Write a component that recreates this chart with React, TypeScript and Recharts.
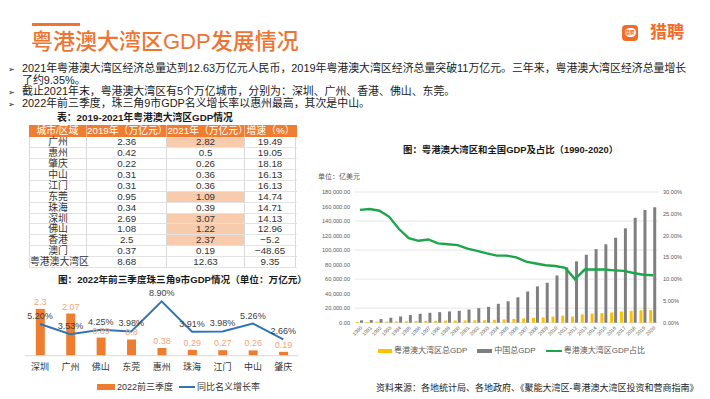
import React from 'react';
import { ComposedChart, Bar, Line, XAxis, YAxis, CartesianGrid, LabelList } from 'recharts';

// table: 2019-2021 GDP
const tableCities = ['广州', '惠州', '肇庆', '中山', '江门', '东莞', '珠海', '深圳', '佛山', '香港', '澳门', '粤港澳大湾区'];
const gdp2019 = ['2.36', '0.42', '0.22', '0.31', '0.31', '0.95', '0.34', '2.69', '1.08', '2.5', '0.37', '8.68'];
const gdp2021 = ['2.82', '0.5', '0.26', '0.36', '0.36', '1.09', '0.39', '3.07', '1.22', '2.37', '0.19', '12.63'];
const growthPct = ['19.49', '19.05', '18.18', '16.13', '16.13', '14.74', '14.71', '14.13', '12.96', '−5.2', '−48.65', '9.35'];
const trillionCities = ['广州', '东莞', '深圳', '佛山', '香港'];
const tableHeader = ['城市/区域', '2019年（万亿元）', '2021年（万亿元）', '增速（%）'];

// 2022 Q1-Q3, 9 cities of the PRD
const cities2022 = ['深圳', '广州', '佛山', '东莞', '惠州', '珠海', '江门', '中山', '肇庆'];
const gdp2022 = [2.3, 2.07, 0.89, 0.8, 0.38, 0.29, 0.27, 0.26, 0.19];
const growth2022 = [5.2, 3.53, 4.25, 3.98, 8.9, 3.91, 3.98, 5.26, 2.66];

// 1990-2020, unit: 亿美元
const years = ['1990', '1991', '1992', '1993', '1994', '1995', '1996', '1997', '1998', '1999', '2000', '2001', '2002', '2003', '2004', '2005', '2006', '2007', '2008', '2009', '2010', '2011', '2012', '2013', '2014', '2015', '2016', '2017', '2018', '2019', '2020'];
const gbaGdp = [830, 940, 1290, 1650, 1850, 2040, 2310, 2600, 2640, 2790, 2920, 3090, 3300, 3470, 4000, 4540, 5250, 6020, 6800, 7260, 8450, 9630, 8450, 11400, 12360, 13180, 14040, 15470, 16470, 17090, 17330];
const chinaGdp = [3200, 3600, 5000, 6800, 8600, 10500, 12300, 13600, 14500, 15500, 16400, 18200, 20000, 21800, 26000, 29500, 35000, 43000, 50000, 55000, 65000, 76400, 84500, 93600, 101300, 108000, 117000, 130000, 144500, 155400, 159000];
const gbaShare = [0.259, 0.261, 0.257, 0.243, 0.215, 0.194, 0.188, 0.191, 0.182, 0.18, 0.178, 0.17, 0.165, 0.159, 0.154, 0.154, 0.15, 0.14, 0.136, 0.132, 0.13, 0.126, 0.1, 0.122, 0.122, 0.122, 0.12, 0.119, 0.114, 0.11, 0.109];
const leftTicks = [0, 20000, 40000, 60000, 80000, 100000, 120000, 140000, 160000, 180000];
const rightTicks = [0, 0.05, 0.1, 0.15, 0.2, 0.25, 0.3];

const ORANGE = '#EE7433';
const FONT = '"Liberation Sans", "Noto Sans CJK SC", sans-serif';

const bullets = [
  { top: 62, text: '2021年粤港澳大湾区经济总量达到12.63万亿元人民币，2019年粤港澳大湾区经济总量突破11万亿元。三年来，粤港澳大湾区经济总量增长', arrow: true },
  { top: 73.5, text: '了约9.35%。', arrow: false },
  { top: 85, text: '截止2021年末，粤港澳大湾区有5个万亿城市，分别为：深圳、广州、香港、佛山、东莞。', arrow: true },
  { top: 96.5, text: '2022年前三季度，珠三角9市GDP名义增长率以惠州最高，其次是中山。', arrow: true },
];

function GdpTable() {
  const cols = [58, 80.4, 77.3, 51.7];
  const cell = (w: number, extra: React.CSSProperties = {}): React.CSSProperties => ({
    width: w,
    boxSizing: 'border-box',
    textAlign: 'center',
    borderRight: '1px solid #d9d9d9',
    whiteSpace: 'nowrap',
    ...extra,
  });
  return (
    <div style={{ position: 'absolute', left: 29, top: 125, width: 268, fontSize: 9.8, color: '#333' }}>
      <div style={{ display: 'flex', height: 12.3, lineHeight: '12.3px', background: '#EE7D31', color: '#fff' }}>
        {tableHeader.map((h, i) => (
          <div key={h} style={cell(cols[i], { borderRight: i < 3 ? '1px solid #f6b58a' : 'none' })}>{h}</div>
        ))}
      </div>
      {tableCities.map((c, r) => {
        const hi = trillionCities.includes(c);
        return (
          <div key={c} style={{ display: 'flex', height: 10.9, lineHeight: '10.9px', borderBottom: '1px solid #e2e2e2', boxSizing: 'border-box', borderLeft: '1px solid #d9d9d9' }}>
            <div style={cell(cols[0] - 1)}>{c}</div>
            <div style={cell(cols[1])}>{gdp2019[r]}</div>
            <div style={cell(cols[2], { background: hi ? '#F8CBAD' : 'transparent' })}>{gdp2021[r]}</div>
            <div style={cell(cols[3])}>{growthPct[r]}</div>
          </div>
        );
      })}
    </div>
  );
}

function PrdChart() {
  const data = cities2022.map((c, i) => ({ city: c, gdp: gdp2022[i], rate: growth2022[i] }));
  return (
    <div style={{ position: 'absolute', left: 0, top: 270 }}>
      <ComposedChart width={300} height={129} data={data} margin={{ top: 24.6, right: 1.5, left: 24.8, bottom: 23.3 }}>
        <XAxis
          dataKey="city"
          height={20}
          interval={0}
          tickLine={false}
          axisLine={{ stroke: '#d9d9d9' }}
          tick={{ fontSize: 9, fill: '#333', fontFamily: FONT }}
        />
        <YAxis yAxisId="bar" hide domain={[0, 3]} />
        <YAxis yAxisId="rate" hide domain={[0, 10]} />
        <Bar yAxisId="bar" dataKey="gdp" fill="#ED7D31" barSize={9} isAnimationActive={false}>
          <LabelList dataKey="gdp" position="top" offset={4} style={{ fontSize: 9, fill: '#F2A47A', fontFamily: FONT }} />
        </Bar>
        <Line yAxisId="rate" dataKey="rate" stroke="#2F75B5" strokeWidth={2} dot={false} isAnimationActive={false}>
          <LabelList
            dataKey="rate"
            position="top"
            offset={5}
            formatter={(v: any) => `${Number(v).toFixed(2)}%`}
            style={{ fontSize: 9, fill: '#404040', fontFamily: FONT }}
          />
        </Line>
      </ComposedChart>
    </div>
  );
}

function GbaChart() {
  const data = years.map((y, i) => ({ year: y, gba: gbaGdp[i], china: chinaGdp[i], share: gbaShare[i] }));
  const tick = { fontSize: 5.6, fill: '#595959', fontFamily: FONT };
  return (
    <div style={{ position: 'absolute', left: 300, top: 160 }}>
      <ComposedChart width={410} height={200} data={data} margin={{ top: 32, right: 0, left: 0, bottom: 12.3 }} barGap={1}>
        <CartesianGrid vertical={false} stroke="#e6e6e6" yAxisId="left" />
        <XAxis
          dataKey="year"
          height={25}
          interval={0}
          tickLine={false}
          axisLine={false}
          tickSize={0}
          tickMargin={3}
          angle={-45}
          textAnchor="end"
          tick={{ fontSize: 5, fill: '#595959', fontFamily: FONT }}
        />
        <YAxis
          yAxisId="left"
          width={55}
          domain={[0, 180000]}
          ticks={leftTicks}
          axisLine={false}
          tickLine={false}
          tickSize={0}
          tickMargin={5}
          tick={tick}
          tickFormatter={(v: number) => v.toLocaleString('en-US', { minimumFractionDigits: 2, maximumFractionDigits: 2 })}
        />
        <YAxis
          yAxisId="right"
          orientation="right"
          width={52}
          domain={[0, 0.3]}
          ticks={rightTicks}
          axisLine={false}
          tickLine={false}
          tickSize={0}
          tickMargin={5}
          tick={{ ...tick, textAnchor: 'start' }}
          tickFormatter={(v: number) => `${(v * 100).toFixed(2)}%`}
        />
        <Bar yAxisId="left" dataKey="gba" fill="#FFC000" barSize={3} isAnimationActive={false} />
        <Bar yAxisId="left" dataKey="china" fill="#7F7F7F" barSize={3} isAnimationActive={false} />
        <Line yAxisId="right" dataKey="share" stroke="#1DA54B" strokeWidth={2.4} dot={false} isAnimationActive={false} />
      </ComposedChart>
    </div>
  );
}

export default function App() {
  return (
    <div style={{ position: 'absolute', left: 0, top: 0, width: 710, height: 399, background: '#fff', overflow: 'hidden', fontFamily: FONT, color: '#1a1a1a' }}>
      {/* header */}
      <div style={{ position: 'absolute', left: 32, top: 23, width: 48, height: 3, background: ORANGE }} />
      <div style={{ position: 'absolute', left: 31, top: 30, fontSize: 22, lineHeight: '24px', color: ORANGE, whiteSpace: 'nowrap', fontWeight: 500 }}>
        粤港澳大湾区GDP发展情况
      </div>
      <div style={{ position: 'absolute', left: 622, top: 25, width: 16, height: 16, borderRadius: 4, background: '#F26B2A' }}>
        <div style={{ position: 'absolute', left: 2.5, top: 3, width: 11, height: 9, borderRadius: 5, background: '#fff', color: '#F26B2A', fontSize: 4.5, lineHeight: '9px', textAlign: 'center', fontWeight: 700 }}>猎聘</div>
      </div>
      <div style={{ position: 'absolute', left: 650, top: 22, fontSize: 17, lineHeight: '22px', color: '#F26B2A', fontWeight: 700 }}>猎聘</div>

      {/* bullets */}
      {bullets.map((b, i) => (
        <div key={i} style={{ position: 'absolute', left: 8, top: b.top, fontSize: 10.9, lineHeight: '12px', whiteSpace: 'nowrap' }}>
          <span style={{ display: 'inline-block', width: 14, fontFamily: '"DejaVu Sans"', fontSize: 8 }}>{b.arrow ? '➢' : ''}</span>
          {b.text}
        </div>
      ))}

      {/* table */}
      <div style={{ position: 'absolute', left: 57, top: 111, fontSize: 9.8, fontWeight: 700, lineHeight: '13px', whiteSpace: 'nowrap' }}>
        表：2019-2021年粤港澳大湾区GDP情况
      </div>
      <GdpTable />

      {/* bottom-left chart */}
      <div style={{ position: 'absolute', left: 58, top: 274, fontSize: 9.6, fontWeight: 700, lineHeight: '12px', whiteSpace: 'nowrap' }}>
        图：2022年前三季度珠三角9市GDP情况（单位：万亿元）
      </div>
      <PrdChart />
      <div style={{ position: 'absolute', left: 97, top: 381, fontSize: 9, lineHeight: '12px', color: '#333', whiteSpace: 'nowrap', display: 'flex', alignItems: 'center' }}>
        <span style={{ display: 'inline-block', width: 18, height: 6, background: '#ED7D31', marginRight: 2 }} />
        <span>2022前三季度</span>
        <span style={{ display: 'inline-block', width: 16, height: 2, background: '#2F75B5', margin: '0 2px 0 6px' }} />
        <span>同比名义增长率</span>
      </div>

      {/* right chart */}
      <div style={{ position: 'absolute', left: 403, top: 144, fontSize: 9.4, fontWeight: 700, lineHeight: '12px', whiteSpace: 'nowrap' }}>
        图：粤港澳大湾区和全国GDP及占比（1990-2020）
      </div>
      <div style={{ position: 'absolute', left: 318, top: 172, fontSize: 7, lineHeight: '9px', color: '#595959', whiteSpace: 'nowrap' }}>单位：亿美元</div>
      <GbaChart />
      <div style={{ position: 'absolute', left: 378, top: 346, fontSize: 8, lineHeight: '10px', color: '#595959', whiteSpace: 'nowrap', display: 'flex', alignItems: 'center' }}>
        <span style={{ display: 'inline-block', width: 14, height: 4, background: '#FFC000', marginRight: 2 }} />
        <span>粤港澳大湾区总GDP</span>
        <span style={{ display: 'inline-block', width: 15, height: 4, background: '#7F7F7F', margin: '0 2px 0 10px' }} />
        <span>中国总GDP</span>
        <span style={{ display: 'inline-block', width: 16, height: 2.5, background: '#1DA54B', margin: '0 2px 0 10px' }} />
        <span>粤港澳大湾区GDP占比</span>
      </div>
      <div style={{ position: 'absolute', left: 376, top: 382, fontSize: 9, lineHeight: '12px', color: '#222', whiteSpace: 'nowrap' }}>
        资料来源：各地统计局、各地政府、《聚能大湾区-粤港澳大湾区投资和营商指南》
      </div>
    </div>
  );
}
